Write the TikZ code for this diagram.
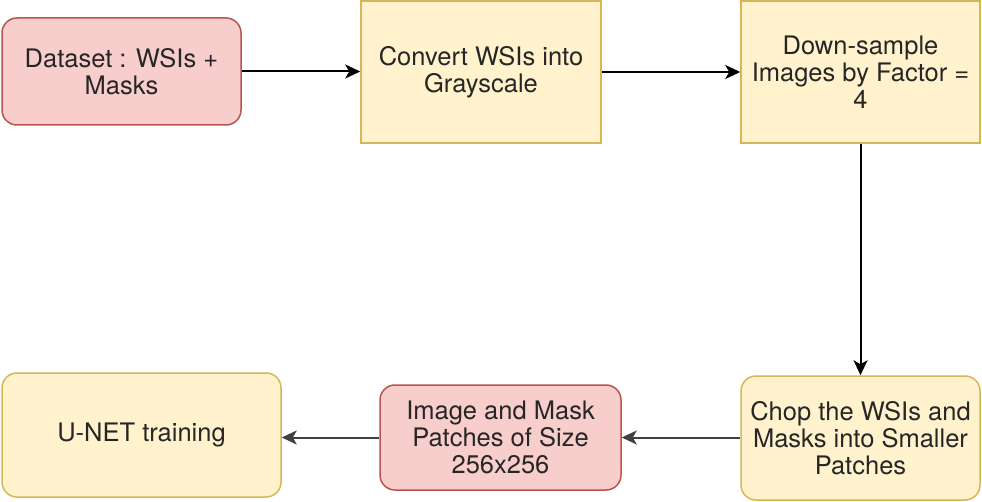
\documentclass[tikz,border=0pt]{standalone}
\usepackage{fontspec}
\setmainfont{TeX Gyre Heros}
\usetikzlibrary{arrows.meta}
\definecolor{pinkfill}{HTML}{F8CECC}
\definecolor{pinkline}{HTML}{B85450}
\definecolor{yelfill}{HTML}{FFF2CC}
\definecolor{yelline}{HTML}{D6B656}
\begin{document}
\begin{tikzpicture}[x=1pt,y=-1pt,
  base/.style={align=center, inner sep=0pt, line width=1.5pt, text=black!85,
    font=\fontsize{25.5}{27}\selectfont},
  pinkbox/.style={base, draw=pinkline, fill=pinkfill, rounded corners=15pt},
  yelbox/.style={base, draw=yelline, fill=yelfill},
  yelround/.style={yelbox, rounded corners=15pt},
  arr/.style={line width=2pt, -{Stealth[length=15pt,width=14pt,inset=4pt]}}]
\useasboundingbox (0,0) rectangle (982,502);
\node[pinkbox, minimum width=239pt, minimum height=107pt] (data) at (121.5,71.5) {Dataset : WSIs +\\Masks};
\node[yelbox, minimum width=240pt, minimum height=142pt] (conv) at (481,72) {Convert WSIs into\\Grayscale};
\node[yelbox, minimum width=239pt, minimum height=142pt] (down) at (860.5,72) {Down-sample\\Images by Factor =\\4};
\node[yelround, minimum width=239pt, minimum height=124pt] (chop) at (860.5,438) {Chop the WSIs and\\Masks into Smaller\\Patches};
\node[pinkbox, minimum width=241pt, minimum height=105pt] (patch) at (500.5,437.5) {Image and Mask\\Patches of Size\\256x256};
\node[yelround, minimum width=279pt, minimum height=124pt] (unet) at (141.5,435) {U-NET training};
\draw[arr] (data.east) -- (conv.west |- data.east);
\draw[arr] (conv.east) -- (down.west);
\draw[arr] (down.south) -- (chop.north);
\draw[arr, black!75] (chop.west |- patch.east) -- (patch.east);
\draw[arr, black!75] (patch.west) -- (unet.east |- patch.west);
\end{tikzpicture}
\end{document}
